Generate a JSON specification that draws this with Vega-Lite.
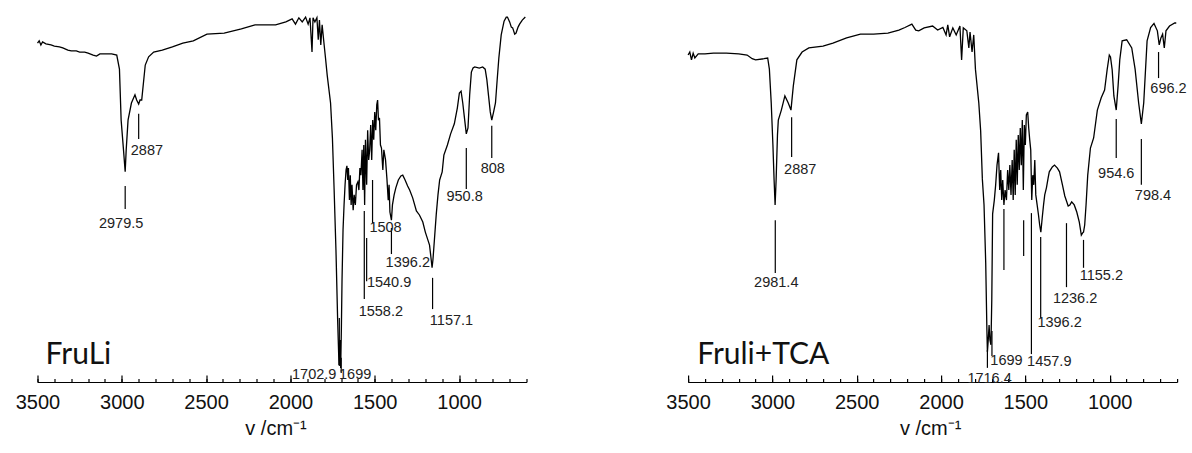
{
  "$schema": "https://vega.github.io/schema/vega-lite/v6.json",
  "background": "white",
  "padding": {"left": 14.5, "top": 10, "right": 0, "bottom": 0},
  "bounds": "flush",
  "spacing": 161.6,
  "config": {"view": {"stroke": null}, "font": "Liberation Sans"},
  "datasets": {
    "fruli": [
      {"wn":3500,"T":91.1},{"wn":3490,"T":91.7},{"wn":3480,"T":90.6},{"wn":3470,"T":91.4},{"wn":3450,"T":90.9},{"wn":3420,"T":90.6},{"wn":3400,"T":90.3},{"wn":3370,"T":90.1},{"wn":3350,"T":89.8},{"wn":3320,"T":89.2},{"wn":3300,"T":89.0},{"wn":3270,"T":89.0},{"wn":3250,"T":88.7},{"wn":3220,"T":88.7},{"wn":3200,"T":88.4},{"wn":3170,"T":87.9},{"wn":3150,"T":87.6},{"wn":3130,"T":88.2},{"wn":3100,"T":88.2},{"wn":3060,"T":88.2},{"wn":3030,"T":87.9},{"wn":3014,"T":84.1},{"wn":3004,"T":70.4},{"wn":2990,"T":62.4},{"wn":2980,"T":56.5},{"wn":2974,"T":62.4},{"wn":2963,"T":70.4},{"wn":2943,"T":75.0},{"wn":2922,"T":77.2},{"wn":2912,"T":75.8},{"wn":2900,"T":74.7},{"wn":2892,"T":75.8},{"wn":2882,"T":75.8},{"wn":2861,"T":85.2},{"wn":2841,"T":87.4},{"wn":2811,"T":88.7},{"wn":2760,"T":89.2},{"wn":2700,"T":90.1},{"wn":2638,"T":91.1},{"wn":2576,"T":91.7},{"wn":2495,"T":93.5},{"wn":2393,"T":93.8},{"wn":2291,"T":94.9},{"wn":2210,"T":96.0},{"wn":2150,"T":96.0},{"wn":2088,"T":96.0},{"wn":2027,"T":96.8},{"wn":1990,"T":97.6},{"wn":1970,"T":96.2},{"wn":1950,"T":97.9},{"wn":1930,"T":96.8},{"wn":1910,"T":98.1},{"wn":1895,"T":96.2},{"wn":1884,"T":97.9},{"wn":1872,"T":88.7},{"wn":1866,"T":97.9},{"wn":1855,"T":96.8},{"wn":1843,"T":97.9},{"wn":1835,"T":92.0},{"wn":1828,"T":97.3},{"wn":1820,"T":90.6},{"wn":1812,"T":96.0},{"wn":1800,"T":90.6},{"wn":1792,"T":87.1},{"wn":1782,"T":82.5},{"wn":1762,"T":75.0},{"wn":1751,"T":65.6},{"wn":1741,"T":51.9},{"wn":1730,"T":35.5},{"wn":1720,"T":16.7},{"wn":1712,"T":4.6},{"wn":1706,"T":11.3},{"wn":1702,"T":3.8},{"wn":1698,"T":14.0},{"wn":1694,"T":27.4},{"wn":1688,"T":40.9},{"wn":1682,"T":47.6},{"wn":1676,"T":53.0},{"wn":1670,"T":57.0},{"wn":1665,"T":58.1},{"wn":1660,"T":54.3},{"wn":1656,"T":57.5},{"wn":1650,"T":48.9},{"wn":1645,"T":55.6},{"wn":1640,"T":47.6},{"wn":1635,"T":53.0},{"wn":1628,"T":46.2},{"wn":1622,"T":50.3},{"wn":1615,"T":47.6},{"wn":1608,"T":53.0},{"wn":1600,"T":53.8},{"wn":1594,"T":51.6},{"wn":1588,"T":57.5},{"wn":1582,"T":55.6},{"wn":1575,"T":62.4},{"wn":1570,"T":51.6},{"wn":1565,"T":63.7},{"wn":1560,"T":47.6},{"wn":1555,"T":65.1},{"wn":1548,"T":53.0},{"wn":1542,"T":67.7},{"wn":1536,"T":59.7},{"wn":1530,"T":62.4},{"wn":1524,"T":69.1},{"wn":1518,"T":59.7},{"wn":1512,"T":70.4},{"wn":1506,"T":65.1},{"wn":1500,"T":72.6},{"wn":1494,"T":67.7},{"wn":1488,"T":74.5},{"wn":1483,"T":75.8},{"wn":1478,"T":70.4},{"wn":1472,"T":71.0},{"wn":1466,"T":63.7},{"wn":1460,"T":62.9},{"wn":1452,"T":57.0},{"wn":1446,"T":62.4},{"wn":1436,"T":59.7},{"wn":1428,"T":54.8},{"wn":1420,"T":48.9},{"wn":1415,"T":53.0},{"wn":1410,"T":45.7},{"wn":1401,"T":43.5},{"wn":1395,"T":47.6},{"wn":1385,"T":50.3},{"wn":1375,"T":52.2},{"wn":1360,"T":54.3},{"wn":1345,"T":55.4},{"wn":1334,"T":55.6},{"wn":1320,"T":54.3},{"wn":1305,"T":52.7},{"wn":1293,"T":51.6},{"wn":1275,"T":49.5},{"wn":1253,"T":46.0},{"wn":1235,"T":44.9},{"wn":1215,"T":43.0},{"wn":1200,"T":40.3},{"wn":1185,"T":38.2},{"wn":1175,"T":36.8},{"wn":1165,"T":32.8},{"wn":1160,"T":30.7},{"wn":1155,"T":32.8},{"wn":1150,"T":35.8},{"wn":1135,"T":45.2},{"wn":1125,"T":50.3},{"wn":1115,"T":54.3},{"wn":1100,"T":56.5},{"wn":1090,"T":61.0},{"wn":1069,"T":63.7},{"wn":1050,"T":66.7},{"wn":1028,"T":69.4},{"wn":1010,"T":73.7},{"wn":998,"T":77.7},{"wn":988,"T":78.2},{"wn":978,"T":75.0},{"wn":968,"T":71.0},{"wn":957,"T":66.7},{"wn":947,"T":68.3},{"wn":937,"T":77.2},{"wn":927,"T":83.3},{"wn":917,"T":84.4},{"wn":907,"T":84.7},{"wn":880,"T":84.4},{"wn":860,"T":84.7},{"wn":845,"T":84.1},{"wn":835,"T":81.2},{"wn":825,"T":76.9},{"wn":815,"T":72.6},{"wn":806,"T":70.4},{"wn":795,"T":72.6},{"wn":784,"T":75.0},{"wn":774,"T":81.2},{"wn":764,"T":87.1},{"wn":750,"T":93.3},{"wn":733,"T":97.0},{"wn":720,"T":98.1},{"wn":713,"T":98.1},{"wn":700,"T":96.8},{"wn":690,"T":95.4},{"wn":682,"T":95.2},{"wn":670,"T":93.5},{"wn":662,"T":93.8},{"wn":650,"T":95.4},{"wn":641,"T":96.2},{"wn":625,"T":97.3},{"wn":607,"T":98.1}
    ],
    "tca": [
      {"wn":3500,"T":87.9},{"wn":3490,"T":88.7},{"wn":3480,"T":86.6},{"wn":3470,"T":88.4},{"wn":3460,"T":87.1},{"wn":3440,"T":88.2},{"wn":3400,"T":88.2},{"wn":3350,"T":88.4},{"wn":3273,"T":88.4},{"wn":3200,"T":88.2},{"wn":3150,"T":87.9},{"wn":3120,"T":86.9},{"wn":3100,"T":86.6},{"wn":3050,"T":86.9},{"wn":3028,"T":87.1},{"wn":3018,"T":84.1},{"wn":3007,"T":75.0},{"wn":2997,"T":63.7},{"wn":2990,"T":54.3},{"wn":2984,"T":47.6},{"wn":2978,"T":54.3},{"wn":2970,"T":66.4},{"wn":2965,"T":70.4},{"wn":2947,"T":73.1},{"wn":2926,"T":76.9},{"wn":2906,"T":75.0},{"wn":2890,"T":73.1},{"wn":2876,"T":79.6},{"wn":2855,"T":86.6},{"wn":2824,"T":88.7},{"wn":2784,"T":89.8},{"wn":2700,"T":90.3},{"wn":2641,"T":91.1},{"wn":2560,"T":92.5},{"wn":2478,"T":93.5},{"wn":2400,"T":93.5},{"wn":2315,"T":93.8},{"wn":2250,"T":94.6},{"wn":2214,"T":95.3},{"wn":2173,"T":96.2},{"wn":2150,"T":94.6},{"wn":2132,"T":94.4},{"wn":2100,"T":95.2},{"wn":2050,"T":95.7},{"wn":2020,"T":94.6},{"wn":1989,"T":95.3},{"wn":1970,"T":93.3},{"wn":1960,"T":96.0},{"wn":1949,"T":92.8},{"wn":1930,"T":95.2},{"wn":1910,"T":93.3},{"wn":1888,"T":95.7},{"wn":1878,"T":86.6},{"wn":1868,"T":95.2},{"wn":1847,"T":94.4},{"wn":1835,"T":89.8},{"wn":1828,"T":94.1},{"wn":1816,"T":88.7},{"wn":1806,"T":93.3},{"wn":1796,"T":84.1},{"wn":1776,"T":75.0},{"wn":1765,"T":67.5},{"wn":1755,"T":54.6},{"wn":1745,"T":47.6},{"wn":1735,"T":32.0},{"wn":1728,"T":14.0},{"wn":1725,"T":8.1},{"wn":1720,"T":11.3},{"wn":1715,"T":15.3},{"wn":1710,"T":11.3},{"wn":1704,"T":10.0},{"wn":1699,"T":22.1},{"wn":1694,"T":45.2},{"wn":1684,"T":48.9},{"wn":1676,"T":53.0},{"wn":1668,"T":58.3},{"wn":1659,"T":61.6},{"wn":1652,"T":51.6},{"wn":1646,"T":57.0},{"wn":1640,"T":48.9},{"wn":1634,"T":54.3},{"wn":1627,"T":47.6},{"wn":1620,"T":51.6},{"wn":1612,"T":48.9},{"wn":1605,"T":57.0},{"wn":1598,"T":51.6},{"wn":1592,"T":58.3},{"wn":1585,"T":50.3},{"wn":1578,"T":59.7},{"wn":1572,"T":48.9},{"wn":1566,"T":62.4},{"wn":1560,"T":50.3},{"wn":1554,"T":65.1},{"wn":1548,"T":53.0},{"wn":1542,"T":66.4},{"wn":1536,"T":57.0},{"wn":1530,"T":68.3},{"wn":1524,"T":58.3},{"wn":1518,"T":70.4},{"wn":1512,"T":51.6},{"wn":1506,"T":69.1},{"wn":1500,"T":63.7},{"wn":1494,"T":71.8},{"wn":1486,"T":72.6},{"wn":1480,"T":68.3},{"wn":1474,"T":65.1},{"wn":1468,"T":62.4},{"wn":1462,"T":48.9},{"wn":1456,"T":55.6},{"wn":1450,"T":53.0},{"wn":1444,"T":59.7},{"wn":1438,"T":50.3},{"wn":1430,"T":47.6},{"wn":1422,"T":44.9},{"wn":1415,"T":42.2},{"wn":1408,"T":40.3},{"wn":1400,"T":44.1},{"wn":1392,"T":47.6},{"wn":1385,"T":50.3},{"wn":1375,"T":52.2},{"wn":1365,"T":54.8},{"wn":1358,"T":56.5},{"wn":1340,"T":57.8},{"wn":1327,"T":58.3},{"wn":1310,"T":57.5},{"wn":1297,"T":56.5},{"wn":1280,"T":53.0},{"wn":1266,"T":50.0},{"wn":1246,"T":47.3},{"wn":1236,"T":47.6},{"wn":1225,"T":48.4},{"wn":1210,"T":47.6},{"wn":1195,"T":45.7},{"wn":1180,"T":43.0},{"wn":1168,"T":39.5},{"wn":1160,"T":40.1},{"wn":1155,"T":40.3},{"wn":1148,"T":42.2},{"wn":1140,"T":47.6},{"wn":1130,"T":55.6},{"wn":1114,"T":62.9},{"wn":1095,"T":65.6},{"wn":1073,"T":73.1},{"wn":1050,"T":76.4},{"wn":1030,"T":78.5},{"wn":1015,"T":83.9},{"wn":1002,"T":87.9},{"wn":995,"T":87.4},{"wn":985,"T":83.9},{"wn":975,"T":76.9},{"wn":961,"T":73.1},{"wn":950,"T":79.6},{"wn":940,"T":86.6},{"wn":926,"T":91.7},{"wn":899,"T":92.0},{"wn":869,"T":89.8},{"wn":849,"T":84.1},{"wn":828,"T":75.0},{"wn":812,"T":69.4},{"wn":798,"T":75.0},{"wn":778,"T":91.7},{"wn":757,"T":95.3},{"wn":737,"T":96.4},{"wn":717,"T":94.4},{"wn":706,"T":90.6},{"wn":696,"T":92.5},{"wn":686,"T":93.5},{"wn":676,"T":89.8},{"wn":666,"T":94.4},{"wn":645,"T":95.7},{"wn":614,"T":96.5},{"wn":605,"T":96.5}
    ],
    "fruli_marks": [
      {"wn":2980,"t1":52.7,"t2":46.5},{"wn":2900,"t1":72.1,"t2":65.3},{"wn":957,"t1":62.9,"t2":51.9},{"wn":806,"t1":68.9,"t2":60.2},{"wn":1513,"t1":54.3,"t2":42.7},{"wn":1401,"t1":41.4,"t2":34.4},{"wn":1548,"t1":38.7,"t2":27.1},{"wn":1562,"t1":46.0,"t2":22.3},{"wn":1157,"t1":28.0,"t2":19.6},{"wn":1710,"t1":17.2,"t2":4.3},{"wn":1699,"t1":6.5,"t2":2.4}
    ],
    "fruli_labels": [
      {"label":"2979.5","wn":3004,"T":42.5},{"label":"2887","wn":2851,"T":62.0},{"label":"950.8","wn":967,"T":49.7},{"label":"808","wn":800,"T":57.3},{"label":"1508","wn":1436,"T":41.4},{"label":"1396.2","wn":1304,"T":32.1},{"label":"1540.9","wn":1415,"T":26.5},{"label":"1558.2","wn":1464,"T":18.7},{"label":"1157.1","wn":1045,"T":16.4},{"label":"1702.9","wn":1859,"T":1.9},{"label":"1699","wn":1616,"T":1.9}
    ],
    "tca_marks": [
      {"wn":2983,"t1":43.5,"t2":29.3},{"wn":2886,"t1":71.2,"t2":60.5},{"wn":961,"t1":70.7,"t2":60.2},{"wn":812,"t1":65.3,"t2":53.0},{"wn":710,"t1":88.7,"t2":81.7},{"wn":1725,"t1":8.6,"t2":3.8},{"wn":1698,"t1":13.7,"t2":7.0},{"wn":1627,"t1":46.5,"t2":30.1},{"wn":1510,"t1":43.5,"t2":33.9},{"wn":1464,"t1":45.4,"t2":7.5},{"wn":1409,"t1":39.0,"t2":17.2},{"wn":1256,"t1":42.7,"t2":25.5},{"wn":1155,"t1":38.2,"t2":30.7}
    ],
    "tca_labels": [
      {"label":"2981.4","wn":2977,"T":26.5},{"label":"2887","wn":2835,"T":56.9},{"label":"954.6","wn":961,"T":56.0},{"label":"798.4","wn":743,"T":50.1},{"label":"696.2","wn":651,"T":78.8},{"label":"1716.4","wn":1712,"T":0.9},{"label":"1699","wn":1612,"T":5.7},{"label":"1457.9","wn":1358,"T":5.3},{"label":"1396.2","wn":1297,"T":15.9},{"label":"1236.2","wn":1205,"T":22.4},{"label":"1155.2","wn":1049,"T":28.6}
    ],
    "fruli_name": [{"name":"FruLi","wn":3452,"T":4.8}],
    "tca_name": [{"name":"Fruli+TCA","wn":3446,"T":4.8}]
  },
  "hconcat": [
    {
      "width": 489, "height": 372,
      "resolve": {"axis": {"x": "independent"}},
      "layer": [
        {
          "data": {"name": "fruli"},
          "mark": {"type": "line", "color": "black", "strokeWidth": 1.3},
          "encoding": {
            "x": {"field": "wn", "type": "quantitative", "scale": {"domain": [600, 3500], "reverse": true, "nice": false, "zero": false},
                  "axis": {"orient": "bottom", "values": [3500,3000,2500,2000,1500,1000], "format": "d", "grid": false, "tickSize": -7, "tickColor": "black", "tickWidth": 1.2, "domainColor": "black", "domainWidth": 1.2, "labelFontSize": 20, "labelColor": "#111", "labelPadding": 33, "labelBaseline": "alphabetic", "labelFlush": false, "labelOverlap": false, "title": "v /cm⁻¹", "titleFontSize": 20, "titleFontWeight": "normal", "titleColor": "#111", "titleX": 238, "titleY": 52, "titleBaseline": "alphabetic", "titleAlign": "center"}},
            "y": {"field": "T", "type": "quantitative", "scale": {"domain": [0, 100], "nice": false, "zero": false}, "axis": null}
          }
        },
        {
          "data": {"name": "fruli_marks"},
          "mark": {"type": "rule", "color": "black", "strokeWidth": 1.2},
          "encoding": {
            "x": {"field": "wn", "type": "quantitative", "axis": {"orient": "bottom", "values": [3500,3400,3300,3200,3100,3000,2900,2800,2700,2600,2500,2400,2300,2200,2100,2000,1900,1800,1700,1600,1500,1400,1300,1200,1100,1000,900,800,700,600], "tickSize": -3.5, "tickColor": "black", "tickWidth": 1.2, "labels": false, "domain": false, "grid": false, "title": null}},
            "y": {"field": "t1", "type": "quantitative", "axis": null},
            "y2": {"field": "t2"}
          }
        },
        {
          "data": {"name": "fruli_labels"},
          "mark": {"type": "text", "fontSize": 14.5, "color": "#222", "align": "center", "baseline": "middle"},
          "encoding": {
            "x": {"field": "wn", "type": "quantitative", "axis": null},
            "y": {"field": "T", "type": "quantitative", "axis": null},
            "text": {"field": "label"}
          }
        },
        {
          "data": {"name": "fruli_name"},
          "mark": {"type": "text", "font": "Lato", "fontSize": 30, "color": "#111", "align": "left", "baseline": "alphabetic"},
          "encoding": {
            "x": {"field": "wn", "type": "quantitative", "axis": null},
            "y": {"field": "T", "type": "quantitative", "axis": null},
            "text": {"field": "name"}
          }
        }
      ]
    },
    {
      "width": 489, "height": 372,
      "resolve": {"axis": {"x": "independent"}},
      "layer": [
        {
          "data": {"name": "tca"},
          "mark": {"type": "line", "color": "black", "strokeWidth": 1.3},
          "encoding": {
            "x": {"field": "wn", "type": "quantitative", "scale": {"domain": [600, 3500], "reverse": true, "nice": false, "zero": false},
                  "axis": {"orient": "bottom", "values": [3500,3000,2500,2000,1500,1000], "format": "d", "grid": false, "tickSize": -7, "tickColor": "black", "tickWidth": 1.2, "domainColor": "black", "domainWidth": 1.2, "labelFontSize": 20, "labelColor": "#111", "labelPadding": 33, "labelBaseline": "alphabetic", "labelFlush": false, "labelOverlap": false, "title": "v /cm⁻¹", "titleFontSize": 20, "titleFontWeight": "normal", "titleColor": "#111", "titleX": 242, "titleY": 52, "titleBaseline": "alphabetic", "titleAlign": "center"}},
            "y": {"field": "T", "type": "quantitative", "scale": {"domain": [0, 100], "nice": false, "zero": false}, "axis": null}
          }
        },
        {
          "data": {"name": "tca_marks"},
          "mark": {"type": "rule", "color": "black", "strokeWidth": 1.2},
          "encoding": {
            "x": {"field": "wn", "type": "quantitative", "axis": {"orient": "bottom", "values": [3500,3400,3300,3200,3100,3000,2900,2800,2700,2600,2500,2400,2300,2200,2100,2000,1900,1800,1700,1600,1500,1400,1300,1200,1100,1000,900,800,700,600], "tickSize": -3.5, "tickColor": "black", "tickWidth": 1.2, "labels": false, "domain": false, "grid": false, "title": null}},
            "y": {"field": "t1", "type": "quantitative", "axis": null},
            "y2": {"field": "t2"}
          }
        },
        {
          "data": {"name": "tca_labels"},
          "mark": {"type": "text", "fontSize": 14.5, "color": "#222", "align": "center", "baseline": "middle"},
          "encoding": {
            "x": {"field": "wn", "type": "quantitative", "axis": null},
            "y": {"field": "T", "type": "quantitative", "axis": null},
            "text": {"field": "label"}
          }
        },
        {
          "data": {"name": "tca_name"},
          "mark": {"type": "text", "font": "Lato", "fontSize": 30, "color": "#111", "align": "left", "baseline": "alphabetic"},
          "encoding": {
            "x": {"field": "wn", "type": "quantitative", "axis": null},
            "y": {"field": "T", "type": "quantitative", "axis": null},
            "text": {"field": "name"}
          }
        }
      ]
    }
  ]
}
